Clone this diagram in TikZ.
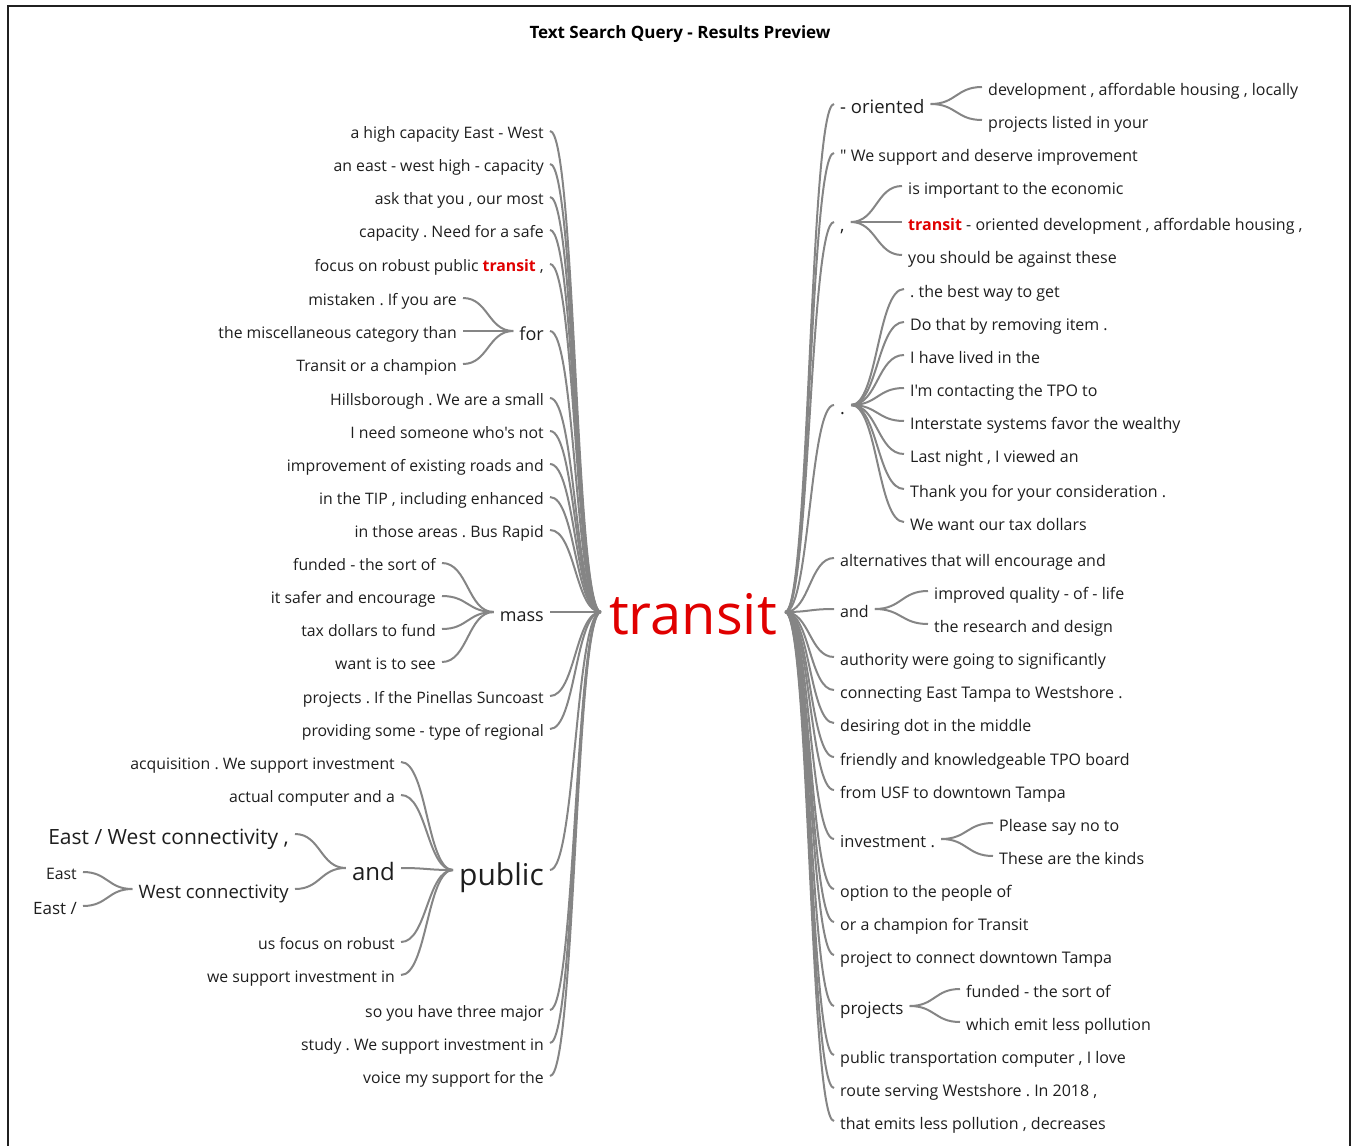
\documentclass[tikz,border=0pt]{standalone}
\usepackage{fontspec}
\setmainfont{Open Sans}[Ligatures=TeXOff]
\usetikzlibrary{calc}
\definecolor{txt}{HTML}{1E1E1E}
\definecolor{lnk}{HTML}{858585}
\definecolor{tred}{HTML}{E00000}
\definecolor{frm}{HTML}{202020}
\newcommand{\hit}{{\bfseries\color{tred}transit}}
\tikzset{
  base/.style={inner xsep=6pt, inner ysep=0pt, text depth=0pt, text=txt},
  fs/.style={font=\fontsize{#1}{#1}\selectfont, text height=#1pt},
  lf/.style={base, anchor=east, fs=15.8},
  rt/.style={base, anchor=west, fs=16},
  rootword/.style={font=\fontsize{56}{60}\selectfont, text=tred, minimum width=184pt,
     inner sep=0pt, text height=45pt, text depth=0pt},
  wt/.style={draw=lnk, line width=2pt, to path={let \p1=(\tikztostart), \p2=(\tikztotarget) in
     .. controls ({0.5*\x1+0.5*\x2},\y1) and ({0.5*\x1+0.5*\x2},\y2) .. (\tikztotarget)}},
}
\begin{document}
\frenchspacing
\begin{tikzpicture}[x=1pt,y=-1pt]
\useasboundingbox (0,0) rectangle (1353,1146);
\draw[line width=2pt, color=frm] (8,1146) -- (8,6) -- (1350,6) -- (1350,1146);
\node[font=\bfseries\fontsize{17}{20}\selectfont, text=black] (title) at (680,34) {Text Search Query - Results Preview};

\node[rootword] (T) at (693,612) {transit};

% ---------- left side ----------
\node[lf] (L1) at (550,131) {a high capacity East - West};
\node[lf] (L2) at (550,164) {an east - west high - capacity};
\node[lf] (L3) at (550,197) {ask that you , our most};
\node[lf] (L4) at (550,230) {capacity . Need for a safe};
\node[lf] (L5) at (550,264) {focus on robust public \hit{} ,};
\node[lf,fs=18] (L6) at (550,331) {for};
\node[lf] (L7) at (550,398) {Hillsborough . We are a small};
\node[lf] (L8) at (550,431) {I need someone who's not};
\node[lf] (L9) at (550,464) {improvement of existing roads and};
\node[lf] (L10) at (550,497) {in the TIP , including enhanced};
\node[lf] (L11) at (550,530) {in those areas . Bus Rapid};
\node[lf,fs=18] (L12) at (550,612) {mass};
\node[lf] (L13) at (550,696) {projects . If the Pinellas Suncoast};
\node[lf] (L14) at (550,729) {providing some - type of regional};
\node[lf,fs=30] (L15) at (550,870) {public};
\node[lf] (L16) at (550,1010) {so you have three major};
\node[lf] (L17) at (550,1043) {study . We support investment in};
\node[lf] (L18) at (550,1076) {voice my support for the};

\node[lf] (F1) at (463,298) {mistaken . If you are};
\node[lf] (F2) at (463,331) {the miscellaneous category than};
\node[lf] (F3) at (463,364) {Transit or a champion};

\node[lf] (M1) at (442,563) {funded - the sort of};
\node[lf] (M2) at (442,596) {it safer and encourage};
\node[lf] (M3) at (442,629) {tax dollars to fund};
\node[lf] (M4) at (442,662) {want is to see};

\node[lf] (P1) at (401,762) {acquisition . We support investment};
\node[lf] (P2) at (401,795) {actual computer and a};
\node[lf,fs=24] (P3) at (401,868) {and};
\node[lf] (P4) at (401,942) {us focus on robust};
\node[lf] (P5) at (401,975) {we support investment in};

\node[lf,fs=21] (A1) at (295,834) {East / West connectivity ,};
\node[lf,fs=18.5] (A2) at (295,889) {West connectivity};

\node[lf] (W1) at (83,872) {East};
\node[lf,fs=17] (W2) at (83,906) {East /};

% ---------- right side ----------
\node[rt,fs=18.5] (R1) at (834,104) {- oriented};
\node[rt] (R2) at (834,153) {" We support and deserve improvement};
\node[rt,fs=18] (R3) at (834,222) {,};
\node[rt,fs=18] (R4) at (834,405) {.};
\node[rt] (R5) at (834,558) {alternatives that will encourage and};
\node[rt,fs=16] (R6) at (834,609) {and};
\node[rt] (R7) at (834,657) {authority were going to significantly};
\node[rt] (R8) at (834,690) {connecting East Tampa to Westshore .};
\node[rt] (R9) at (834,723) {desiring dot in the middle};
\node[rt] (R10) at (834,757) {friendly and knowledgeable TPO board};
\node[rt] (R11) at (834,790) {from USF to downtown Tampa};
\node[rt,fs=16.5] (R12) at (834,839) {investment .};
\node[rt] (R13) at (834,889) {option to the people of};
\node[rt] (R14) at (834,922) {or a champion for Transit};
\node[rt] (R15) at (834,955) {project to connect downtown Tampa};
\node[rt,fs=17] (R16) at (834,1006) {projects};
\node[rt] (R17) at (834,1055) {public transportation computer , I love};
\node[rt] (R18) at (834,1088) {route serving Westshore . In 2018 ,};
\node[rt] (R19) at (834,1121) {that emits less pollution , decreases};

\node[rt] (O1) at (982,87) {development , affordable housing , locally};
\node[rt] (O2) at (982,120) {projects listed in your};

\node[rt] (C1) at (902,186) {is important to the economic};
\node[rt] (C2) at (902,222) {\hit{} - oriented development , affordable housing ,};
\node[rt] (C3) at (902,255) {you should be against these};

\node[rt] (D1) at (904,289) {. the best way to get};
\node[rt] (D2) at (904,322) {Do that by removing item .};
\node[rt] (D3) at (904,355) {I have lived in the};
\node[rt] (D4) at (904,388) {I'm contacting the TPO to};
\node[rt] (D5) at (904,421) {Interstate systems favor the wealthy};
\node[rt] (D6) at (904,454) {Last night , I viewed an};
\node[rt] (D7) at (904,489) {Thank you for your consideration .};
\node[rt] (D8) at (904,522) {We want our tax dollars};

\node[rt] (N1) at (928,591) {improved quality - of - life};
\node[rt] (N2) at (928,624) {the research and design};

\node[rt] (I1) at (993,823) {Please say no to};
\node[rt] (I2) at (993,856) {These are the kinds};

\node[rt] (J1) at (960,989) {funded - the sort of};
\node[rt] (J2) at (960,1022) {which emit less pollution};

% ---------- connectors ----------
\foreach \k in {L1,L2,L3,L4,L5,L6,L7,L8,L9,L10,L11,L12,L13,L14,L15,L16,L17,L18}
  \draw[wt] (\k.east) to (T.west);
\foreach \k in {F1,F2,F3} \draw[wt] (\k.east) to (L6.west);
\foreach \k in {M1,M2,M3,M4} \draw[wt] (\k.east) to (L12.west);
\foreach \k in {P1,P2,P3,P4,P5} \draw[wt] (\k.east) to (L15.west);
\foreach \k in {A1,A2} \draw[wt] (\k.east) to (P3.west);
\foreach \k in {W1,W2} \draw[wt] (\k.east) to (A2.west);

\foreach \k in {R1,R2,R3,R4,R5,R6,R7,R8,R9,R10,R11,R12,R13,R14,R15,R16,R17,R18,R19}
  \draw[wt] (T.east) to (\k.west);
\foreach \k in {O1,O2} \draw[wt] (R1.east) to (\k.west);
\foreach \k in {C1,C2,C3} \draw[wt] (R3.east) to (\k.west);
\foreach \k in {D1,D2,D3,D4,D5,D6,D7,D8} \draw[wt] (R4.east) to (\k.west);
\foreach \k in {N1,N2} \draw[wt] (R6.east) to (\k.west);
\foreach \k in {I1,I2} \draw[wt] (R12.east) to (\k.west);
\foreach \k in {J1,J2} \draw[wt] (R16.east) to (\k.west);
\end{tikzpicture}
\end{document}
